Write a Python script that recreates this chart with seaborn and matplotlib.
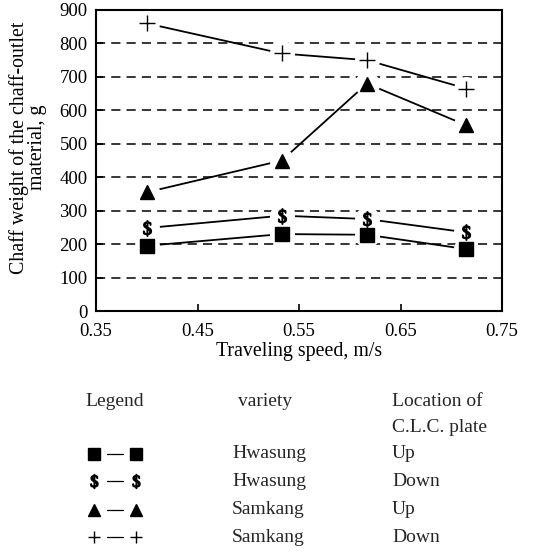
import matplotlib
matplotlib.use("Agg")
import matplotlib.pyplot as plt
import seaborn as sns
import pandas as pd

sns.set_theme(style="white")
plt.rcParams['font.family'] = ['Liberation Serif', 'DejaVu Serif']
plt.rcParams['mathtext.fontset'] = 'stix'

speed = [0.40, 0.533, 0.617, 0.715]
hwasung_up = [195, 230, 228, 185]
hwasung_down = [248, 285, 275, 235]
samkang_up = [355, 450, 680, 555]
samkang_down = [860, 770, 750, 665]

series_names = ["Hwasung Up", "Hwasung Down", "Samkang Up", "Samkang Down"]
series_vals = [hwasung_up, hwasung_down, samkang_up, samkang_down]
varieties = ["Hwasung", "Hwasung", "Samkang", "Samkang"]
locations = ["Up", "Down", "Up", "Down"]
x_ticks = [0.35, 0.45, 0.55, 0.65, 0.75]
y_ticks = [0, 100, 200, 300, 400, 500, 600, 700, 800, 900]

markers = ["s", r"$\$$", "^", "+"]
msizes = [10, 11, 10, 11]

rows = []
for name, vals in zip(series_names, series_vals):
    for s, v in zip(speed, vals):
        rows.append({"series": name, "speed": s, "weight": v})
df = pd.DataFrame(rows)

W, H = 535, 553
fig = plt.figure(figsize=(W / 100, H / 100), dpi=100)
ax = fig.add_axes([96 / W, 1 - 311 / H, (502 - 96) / W, (311 - 10) / H])

# grid lines
for yv in y_ticks[1:-1]:
    ax.axhline(yv, color="black", lw=1.1, ls=(0, (6, 4)), zorder=1)

sns.lineplot(data=df, x="speed", y="weight", hue="series", units="series",
             estimator=None, palette=["black"] * 4, legend=False, lw=1.3,
             ax=ax, zorder=2)

for name, m, ms in zip(series_names, markers, msizes):
    sub = df[df["series"] == name]
    ax.plot(sub["speed"], sub["weight"], ls="none", marker="o", ms=17,
            mfc="white", mec="white", zorder=3)
    ax.plot(sub["speed"], sub["weight"], ls="none", marker=m, ms=ms,
            color="black", mew=1.0, zorder=4)

ax.set_xlim(0.35, 0.75)
ax.set_ylim(0, 900)
ax.set_xticks(x_ticks)
ax.set_xticklabels([f"{v:.2f}" for v in x_ticks])
ax.set_yticks(y_ticks)
ax.tick_params(direction="in", length=5, width=1.2, colors="black",
               labelsize=13.5, top=False, right=False, bottom=True, left=True)
ax.tick_params(axis="x", pad=9)
ax.tick_params(axis="y", pad=6)
for side in ["left", "bottom", "top", "right"]:
    ax.spines[side].set_color("black")
    ax.spines[side].set_linewidth(1.5)
ax.set_xlabel("Traveling speed, m/s", fontsize=14.3, color="black", labelpad=1)
ax.set_ylabel("Chaff weight of the chaff-outlet\nmaterial, g", fontsize=14.3,
              color="black", linespacing=0.95)
ax.yaxis.set_label_coords(-0.12, 0.543)
ax.grid(False)

# legend table
lax = fig.add_axes([0, 0, 1, 1])
lax.set_xlim(0, W)
lax.set_ylim(H, 0)
lax.axis("off")
fs = 14
lax.text(115, 401, "Legend", ha="center", va="center", fontsize=fs)
lax.text(265, 401, "variety", ha="center", va="center", fontsize=fs)
lax.text(392, 401, "Location of", ha="left", va="center", fontsize=fs)
lax.text(392, 428, "C.L.C. plate", ha="left", va="center", fontsize=fs)
row_y = [454, 481, 510, 537]
leg_ms = [9, 10, 9, 9]
for yv, m, lms, var, loc in zip(row_y, markers, leg_ms, varieties, locations):
    lax.plot([107, 123], [yv, yv], color="black", lw=0.9)
    lax.plot([94, 136], [yv, yv], ls="none", marker=m, ms=lms, color="black", mew=1.0)
    lax.text(232, yv, var, ha="left", va="center", fontsize=fs)
    lax.text(392, yv, loc, ha="left", va="center", fontsize=fs)

fig.savefig("out.png", dpi=100, facecolor="white")
